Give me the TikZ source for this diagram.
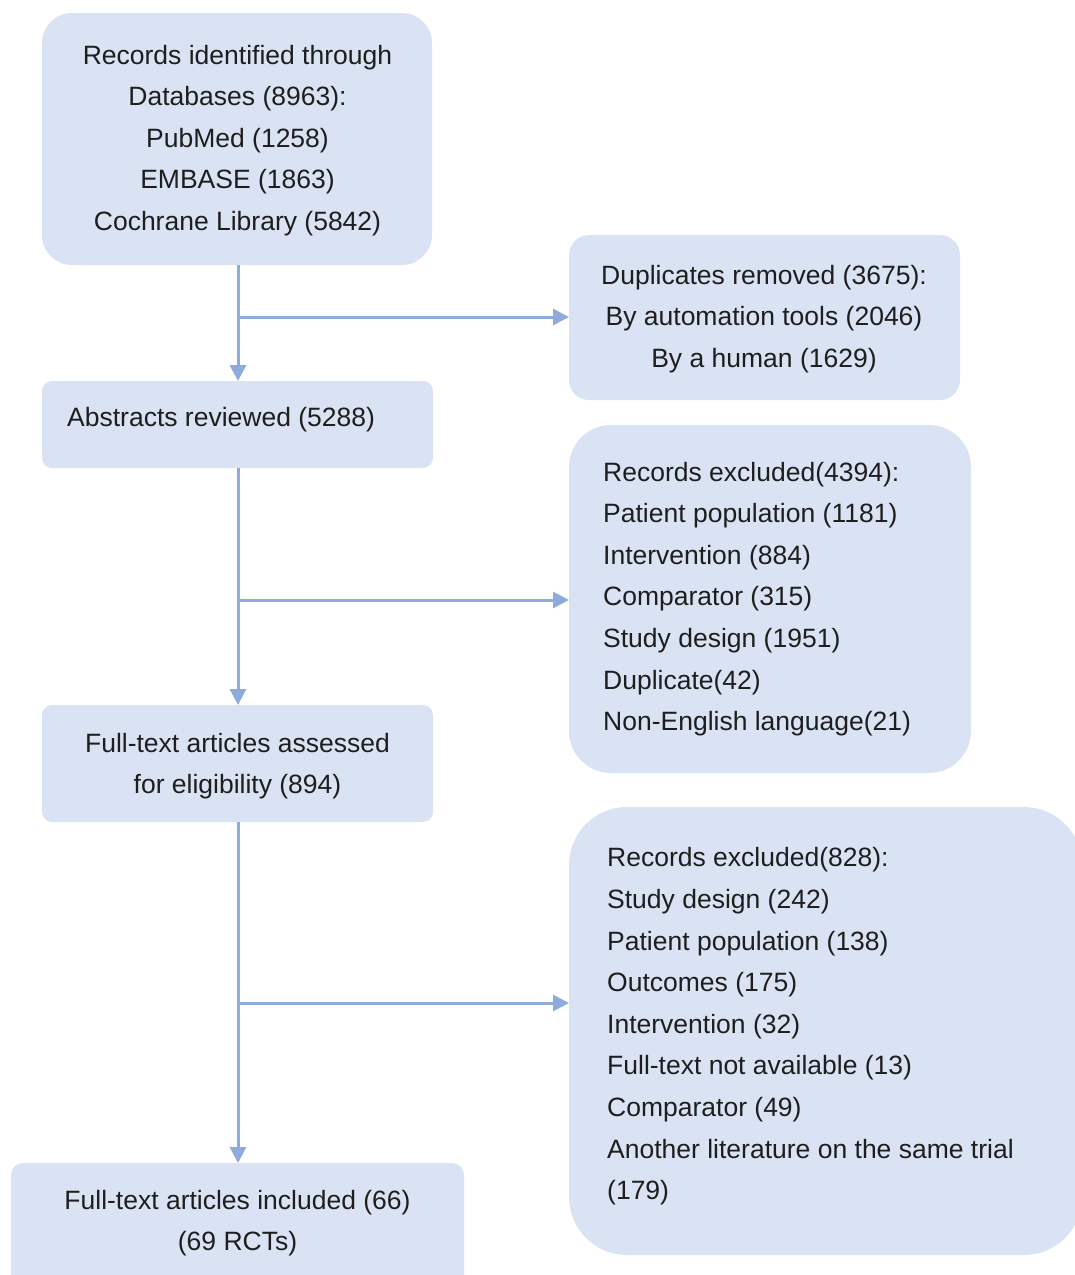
\documentclass[tikz,border=0pt]{standalone}
\usepackage{fontspec}
\setmainfont{Liberation Sans}
\usetikzlibrary{arrows.meta}
\definecolor{boxfill}{HTML}{DAE3F3}
\definecolor{linec}{HTML}{8FAADC}
\definecolor{txtc}{HTML}{1E1E1E}
\begin{document}
\begin{tikzpicture}[x=1pt,y=-1pt,
 box/.style={fill=boxfill, draw=none, inner sep=0pt, outer sep=0pt},
 txt/.style={text=txtc, font=\fontsize{26.5}{41.6}\selectfont, inner sep=0pt, align=center},
 txtl/.style={txt, align=left, anchor=west},
 arr/.style={draw=linec, line width=3pt, -{Triangle[length=16pt,width=16pt]}}]
\useasboundingbox (0,0) rectangle (1075,1275);
\clip (0,0) rectangle (1075,1275);
% boxes
\node[box, rounded corners=30pt, minimum width=390pt, minimum height=252pt] (b1) at (237,139) {};
\node[box, rounded corners=20pt, minimum width=391pt, minimum height=165pt] (b2) at (764.5,317.5) {};
\node[box, rounded corners=10pt, minimum width=391pt, minimum height=87pt] (b3) at (237.5,424.5) {};
\node[box, rounded corners=42pt, minimum width=402pt, minimum height=348pt] (b4) at (770,599) {};
\node[box, rounded corners=10pt, minimum width=391pt, minimum height=117pt] (b5) at (237.5,763.5) {};
\node[box, rounded corners=58pt, minimum width=513pt, minimum height=448pt] (b6) at (825.5,1031) {};
\node[box, rounded corners=12pt, minimum width=453pt, minimum height=127pt] (b7) at (237.5,1226.5) {};
% texts
\node[txt] (t1) at (237.5,140.5) {Records identified through\\Databases (8963):\\PubMed (1258)\\EMBASE (1863)\\Cochrane Library (5842)};
\node[txt] (t2) at (764,319) {Duplicates removed (3675):\\By automation tools (2046)\\By a human (1629)};
\node[txtl] (t3) at (67,420) {Abstracts reviewed (5288)};
\node[txtl] (t4) at (603,599) {Records excluded(4394):\\Patient population (1181)\\Intervention (884)\\Comparator (315)\\Study design (1951)\\Duplicate(42)\\Non-English language(21)};
\node[txt] (t5) at (237.5,766) {Full-text articles assessed\\for eligibility (894)};
\node[txtl] (t6) at (607,1026.5) {Records excluded(828):\\Study design (242)\\Patient population (138)\\Outcomes (175)\\Intervention (32)\\Full-text not available (13)\\Comparator (49)\\Another literature on the same trial\\(179)};
\node[txt] (t7) at (237.5,1223) {Full-text articles included (66)\\(69 RCTs)};
% connectors
\coordinate (j1) at (238,317);
\coordinate (j2) at (238,600);
\coordinate (j3) at (238,1003);
\draw[arr] (b1.south -| j1) -- (b3.north -| j1);
\draw[arr] (j1) -- (j1 -| b2.west);
\draw[arr] (b3.south -| j2) -- (b5.north -| j2);
\draw[arr] (j2) -- (j2 -| b4.west);
\draw[arr] (b5.south -| j3) -- (b7.north -| j3);
\draw[arr] (j3) -- (j3 -| b6.west);
\end{tikzpicture}
\end{document}
